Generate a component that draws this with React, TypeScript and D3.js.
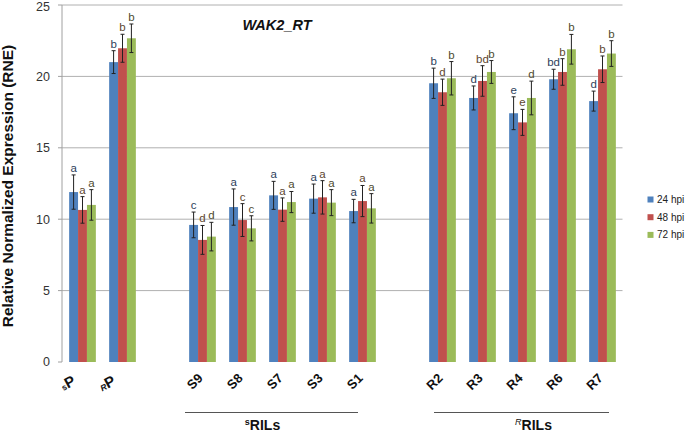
import React from "react";
import * as d3 from "d3";

const slots = ["sP", "RP", "gap1", "S9", "S8", "S7", "S3", "S1", "gap2", "R2", "R3", "R4", "R6", "R7"];
const categories = ["sP", "RP", "S9", "S8", "S7", "S3", "S1", "R2", "R3", "R4", "R6", "R7"];
const labelSup = ["s", "R", "", "", "", "", "", "", "", "", "", ""];
const labelMain = ["P", "P", "S9", "S8", "S7", "S3", "S1", "R2", "R3", "R4", "R6", "R7"];
const seriesNames = ["24 hpi", "48 hpi", "72 hpi"];
const seriesColors = ["#4F81BD", "#C0504D", "#9BBB59"];
const letterColors = ["#2E3F5C", "#5E4630", "#4E4A30"];

const mean24 = [11.9, 21.0, 9.6, 10.85, 11.67, 11.44, 10.57, 19.52, 18.49, 17.42, 19.8, 18.27];
const mean48 = [10.65, 21.97, 8.55, 9.94, 10.67, 11.53, 11.27, 18.89, 19.68, 16.78, 20.31, 20.5];
const mean72 = [11.0, 22.67, 8.78, 9.36, 11.2, 11.16, 10.76, 19.87, 20.31, 18.49, 21.9, 21.6];
const err24 = [1.2, 0.8, 0.9, 1.27, 0.98, 1.02, 0.82, 1.06, 0.84, 1.15, 0.7, 0.7];
const err48 = [0.93, 0.98, 1.01, 1.15, 0.82, 1.17, 1.09, 0.92, 1.07, 0.91, 0.93, 0.93];
const err72 = [1.07, 1.0, 1.0, 0.88, 0.74, 0.91, 1.03, 1.17, 0.8, 1.18, 1.04, 0.9];
const let24 = ["a", "b", "c", "a", "a", "a", "a", "b", "d", "e", "bd", "d"];
const let48 = ["a", "b", "d", "c", "a", "a", "a", "d", "bd", "e", "b", "b"];
const let72 = ["a", "b", "d", "c", "a", "a", "a", "b", "b", "d", "b", "b"];

const yTicks = [0, 5, 10, 15, 20, 25];

const groupLabels = [
  { sup: "s", italic: false, main: "RILs", from: "S9", to: "S1" },
  { sup: "R", italic: true, main: "RILs", from: "R2", to: "R7" },
];

const W = 685;
const H = 432;
const FONT = "'Liberation Sans', Arial, sans-serif";

export default function App() {
  const x = d3.scaleBand<string>().domain(slots).range([62.5, 622.5]).padding(0);
  const xs = d3
    .scaleBand<string>()
    .domain(seriesNames)
    .range([0, x.bandwidth()])
    .paddingInner(0)
    .paddingOuter(0.747);
  const y = d3.scaleLinear().domain([0, 25]).range([362, 5]);

  const means = [mean24, mean48, mean72];
  const errs = [err24, err48, err72];
  const lets = [let24, let48, let72];
  const bw = xs.bandwidth();

  // bracket offsets relative to band starts, and label centres
  const bracketOffsets = [
    [2.5, 15.5],
    [11.5, 26.5],
  ];
  const labelShift = [-9, 12];

  return (
    <svg
      width={W}
      height={H}
      style={{ position: "absolute", left: 0, top: 0, background: "#fff" }}
      fontFamily={FONT}
    >
      {/* gridlines */}
      {yTicks.filter((t) => t > 0).map((t) => (
        <line key={"g" + t} x1={62} x2={622.5} y1={y(t)} y2={y(t)} stroke="#b0b0b0" strokeWidth={1} />
      ))}
      {/* y axis */}
      <line x1={62} x2={62} y1={y(25)} y2={y(0)} stroke="#a0a0a0" strokeWidth={1} />
      {yTicks.map((t) => (
        <g key={"t" + t}>
          <line x1={58} x2={62} y1={y(t)} y2={y(t)} stroke="#a0a0a0" />
          <text x={50} y={Math.max(y(t), 6.5)} dy="0.35em" textAnchor="end" fontSize={12.5} fill="#333">
            {t}
          </text>
        </g>
      ))}
      <text
        transform={`translate(13,${186}) rotate(-90)`}
        textAnchor="middle"
        fontSize={15.5}
        fontWeight="bold"
        fill="#111"
      >
        Relative Normalized Expression (RNE)
      </text>

      {/* title */}
      <text x={277} y={30} textAnchor="middle" fontSize={14.5} fontWeight="bold" fontStyle="italic" fill="#111">
        WAK2_RT
      </text>

      {/* bars */}
      {categories.map((c, i) => (
        <g key={c} transform={`translate(${x(c)},0)`}>
          {seriesNames.map((s, k) => {
            const v = means[k][i];
            const e = errs[k][i];
            const bx = xs(s)!;
            const cx = bx + bw / 2;
            return (
              <g key={s}>
                <rect x={bx} y={y(v)} width={bw} height={y(0) - y(v)} fill={seriesColors[k]} />
                <line x1={cx} x2={cx} y1={y(v + e)} y2={y(v - e)} stroke="#222" strokeWidth={1} />
                <line x1={cx - 2} x2={cx + 2} y1={y(v + e)} y2={y(v + e)} stroke="#222" strokeWidth={1} />
                <line x1={cx - 2} x2={cx + 2} y1={y(v - e)} y2={y(v - e)} stroke="#222" strokeWidth={1} />
                <text
                  x={cx}
                  y={y(v + e) - 3}
                  textAnchor="middle"
                  fontSize={11.5}
                  fill={letterColors[k]}
                >
                  {lets[k][i]}
                </text>
              </g>
            );
          })}
        </g>
      ))}

      {/* x labels */}
      {categories.map((c, i) => {
        const cx = x(c)! + x.bandwidth() / 2;
        const isParent = labelSup[i] !== "";
        const tx = isParent ? cx - 6 : cx + 1;
        const ty = isParent ? 384 : 379;
        const rot = isParent ? -28 : -45;
        return (
          <text
            key={"l" + c}
            transform={`translate(${tx},${ty}) rotate(${rot})`}
            textAnchor="end"
            fontSize={13}
            fontWeight="bold"
            fill="#111"
          >
            {isParent && (
              <tspan fontSize={8.5} fontStyle={labelSup[i] === "R" ? "italic" : "normal"}>
                {labelSup[i]}
              </tspan>
            )}
            <tspan fontSize={isParent ? 15 : 13}>{labelMain[i]}</tspan>
          </text>
        );
      })}

      {/* group brackets */}
      {groupLabels.map((g, gi) => {
        const x1 = x(g.from)! + bracketOffsets[gi][0];
        const x2 = x(g.to)! + bracketOffsets[gi][1];
        const lx = (x1 + x2) / 2 + labelShift[gi];
        return (
          <g key={"grp" + gi}>
            <line x1={x1} x2={x2} y1={412.5} y2={412.5} stroke="#555" strokeWidth={1} />
            <text x={lx} y={430} textAnchor="middle" fontSize={14} fontWeight="bold" fill="#111">
              <tspan fontSize={9} dy={-5} fontStyle={g.italic ? "italic" : "normal"} fontWeight={g.italic ? "normal" : "bold"}>
                {g.sup}
              </tspan>
              <tspan dy={5}>{g.main}</tspan>
            </text>
          </g>
        );
      })}

      {/* legend */}
      {seriesNames.map((s, k) => {
        const cy = 199.5 + k * 17.7;
        return (
          <g key={"lg" + s}>
            <rect x={647.5} y={cy - 3} width={6} height={6} fill={seriesColors[k]} />
            <text x={657} y={cy} dy="0.35em" fontSize={10} fill="#222">
              {s}
            </text>
          </g>
        );
      })}
    </svg>
  );
}
